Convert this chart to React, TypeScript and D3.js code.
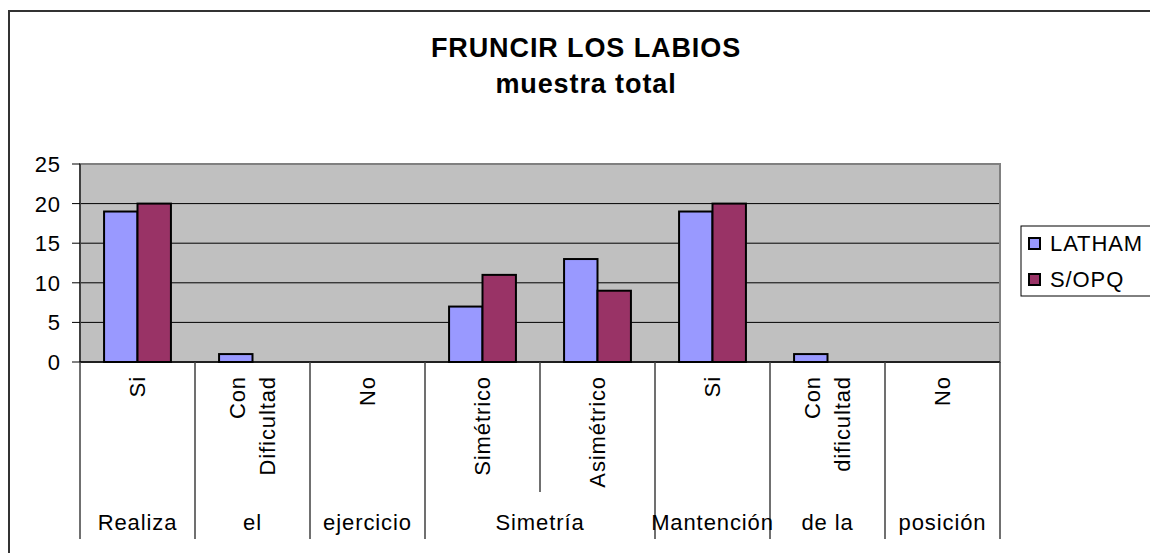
import React from 'react';
import * as d3 from 'd3';

// category labels (rotated, first axis level)
const categories: string[][] = [
    ['Si'],
    ['Con', 'Dificultad'],
    ['No'],
    ['Simétrico'],
    ['Asimétrico'],
    ['Si'],
    ['Con', 'dificultad'],
    ['No'],
];

// second axis level: labels and how many categories each covers
const groupLabels = ['Realiza', 'el', 'ejercicio', 'Simetría', 'Mantención', 'de la', 'posición'];
const groupSpans = [1, 1, 1, 2, 1, 1, 1];

const seriesNames = ['LATHAM', 'S/OPQ'];
const seriesColors = ['#9999FF', '#993366'];
const lathamValues = [19, 1, 0, 7, 13, 19, 1, 0];
const sopqValues = [20, 0, 0, 11, 9, 20, 0, 0];

const yTicks = [0, 5, 10, 15, 20, 25];

const W = 1150;
const H = 553;
const plot = { left: 80, right: 1000, top: 164, bottom: 362 };
const font = '"Liberation Sans", Arial, sans-serif';
const spacing = '0.9px';

const App = () => {
    const values = [lathamValues, sopqValues];
    const ids = categories.map((_, i) => String(i));

    const x0 = d3.scaleBand<string>()
        .domain(ids)
        .range([plot.left, plot.right])
        .padding(0);

    const x1 = d3.scaleBand<string>()
        .domain(seriesNames)
        .range([0, x0.bandwidth()])
        .paddingInner(0)
        .paddingOuter(0.72);

    const y = d3.scaleLinear()
        .domain([0, 25])
        .range([plot.bottom, plot.top]);

    // group boundaries in category index
    const groupStarts: number[] = [];
    groupSpans.reduce((acc, s) => { groupStarts.push(acc); return acc + s; }, 0);
    const boundaryIdx = new Set<number>([...groupStarts, categories.length]);

    const axisBottom = 539;
    const innerBottom = 492;

    return (
        <svg width={W} height={H} style={{ position: 'absolute', left: 0, top: 0, background: '#fff' }}
            fontFamily={font} letterSpacing={spacing}>
            {/* chart border */}
            <rect x={9} y={11} width={W + 20} height={H + 20} fill="#fff" stroke="#333" strokeWidth={2} />

            {/* title */}
            <text x={586} y={57} textAnchor="middle" fontSize={27} fontWeight="bold">FRUNCIR LOS LABIOS</text>
            <text x={586} y={93} textAnchor="middle" fontSize={27} fontWeight="bold">muestra total</text>

            {/* plot area */}
            <rect x={plot.left} y={plot.top} width={plot.right - plot.left} height={plot.bottom - plot.top}
                fill="#C0C0C0" />
            {yTicks.filter(t => t > 0 && t < 25).map(t => (
                <line key={t} x1={plot.left} x2={plot.right} y1={y(t)} y2={y(t)} stroke="#000" strokeWidth={1} />
            ))}
            <rect x={plot.left} y={plot.top} width={plot.right - plot.left} height={plot.bottom - plot.top}
                fill="none" stroke="#808080" strokeWidth={2} />

            {/* bars */}
            {seriesNames.map((s, si) => (
                <g key={s} fill={seriesColors[si]} stroke="#000" strokeWidth={2}>
                    {values[si].map((v, i) => v > 0 && (
                        <rect key={i}
                            x={(x0(String(i)) || 0) + (x1(s) || 0)}
                            y={y(v)}
                            width={x1.bandwidth()}
                            height={y(0) - y(v)} />
                    ))}
                </g>
            ))}

            {/* y axis */}
            <line x1={plot.left} x2={plot.left} y1={plot.top} y2={plot.bottom} stroke="#000" strokeWidth={1} />
            {yTicks.map(t => (
                <g key={t}>
                    <line x1={plot.left - 8} x2={plot.left} y1={y(t)} y2={y(t)} stroke="#000" strokeWidth={1} />
                    <text x={61} y={y(t)} dy="0.36em" textAnchor="end" fontSize={22}>{t}</text>
                </g>
            ))}

            {/* category axis */}
            <line x1={plot.left} x2={plot.right} y1={plot.bottom} y2={plot.bottom} stroke="#000" strokeWidth={1.5} />
            {d3.range(categories.length + 1).map(i => {
                const xx = i < categories.length ? (x0(String(i)) || 0) : plot.right;
                const full = boundaryIdx.has(i);
                return (
                    <line key={i} x1={xx} x2={xx} y1={plot.bottom} y2={full ? axisBottom : innerBottom}
                        stroke="#404040" strokeWidth={1.5} />
                );
            })}
            {categories.map((lines, i) => {
                const c = (x0(String(i)) || 0) + x0.bandwidth() / 2;
                return lines.map((ln, li) => {
                    const bx = c + 7 + (li - (lines.length - 1) / 2) * 30;
                    return (
                        <text key={`${i}-${li}`} transform={`translate(${bx},376) rotate(-90)`}
                            textAnchor="end" fontSize={22}>{ln}</text>
                    );
                });
            })}
            {groupLabels.map((g, gi) => {
                const start = groupStarts[gi];
                const end = start + groupSpans[gi];
                const xs = x0(String(start)) || 0;
                const xe = end < categories.length ? (x0(String(end)) || 0) : plot.right;
                return (
                    <text key={gi} x={(xs + xe) / 2} y={530} textAnchor="middle" fontSize={22}>{g}</text>
                );
            })}

            {/* legend */}
            <rect x={1021} y={226} width={160} height={70} fill="#fff" stroke="#000" strokeWidth={1} />
            {seriesNames.map((s, si) => (
                <g key={s} transform={`translate(1029,${238 + si * 36})`}>
                    <rect x={0} y={0} width={11} height={11} fill={seriesColors[si]} stroke="#000" strokeWidth={2} />
                    <text x={21} y={13} fontSize={22}>{s}</text>
                </g>
            ))}
        </svg>
    );
};

export default App;
